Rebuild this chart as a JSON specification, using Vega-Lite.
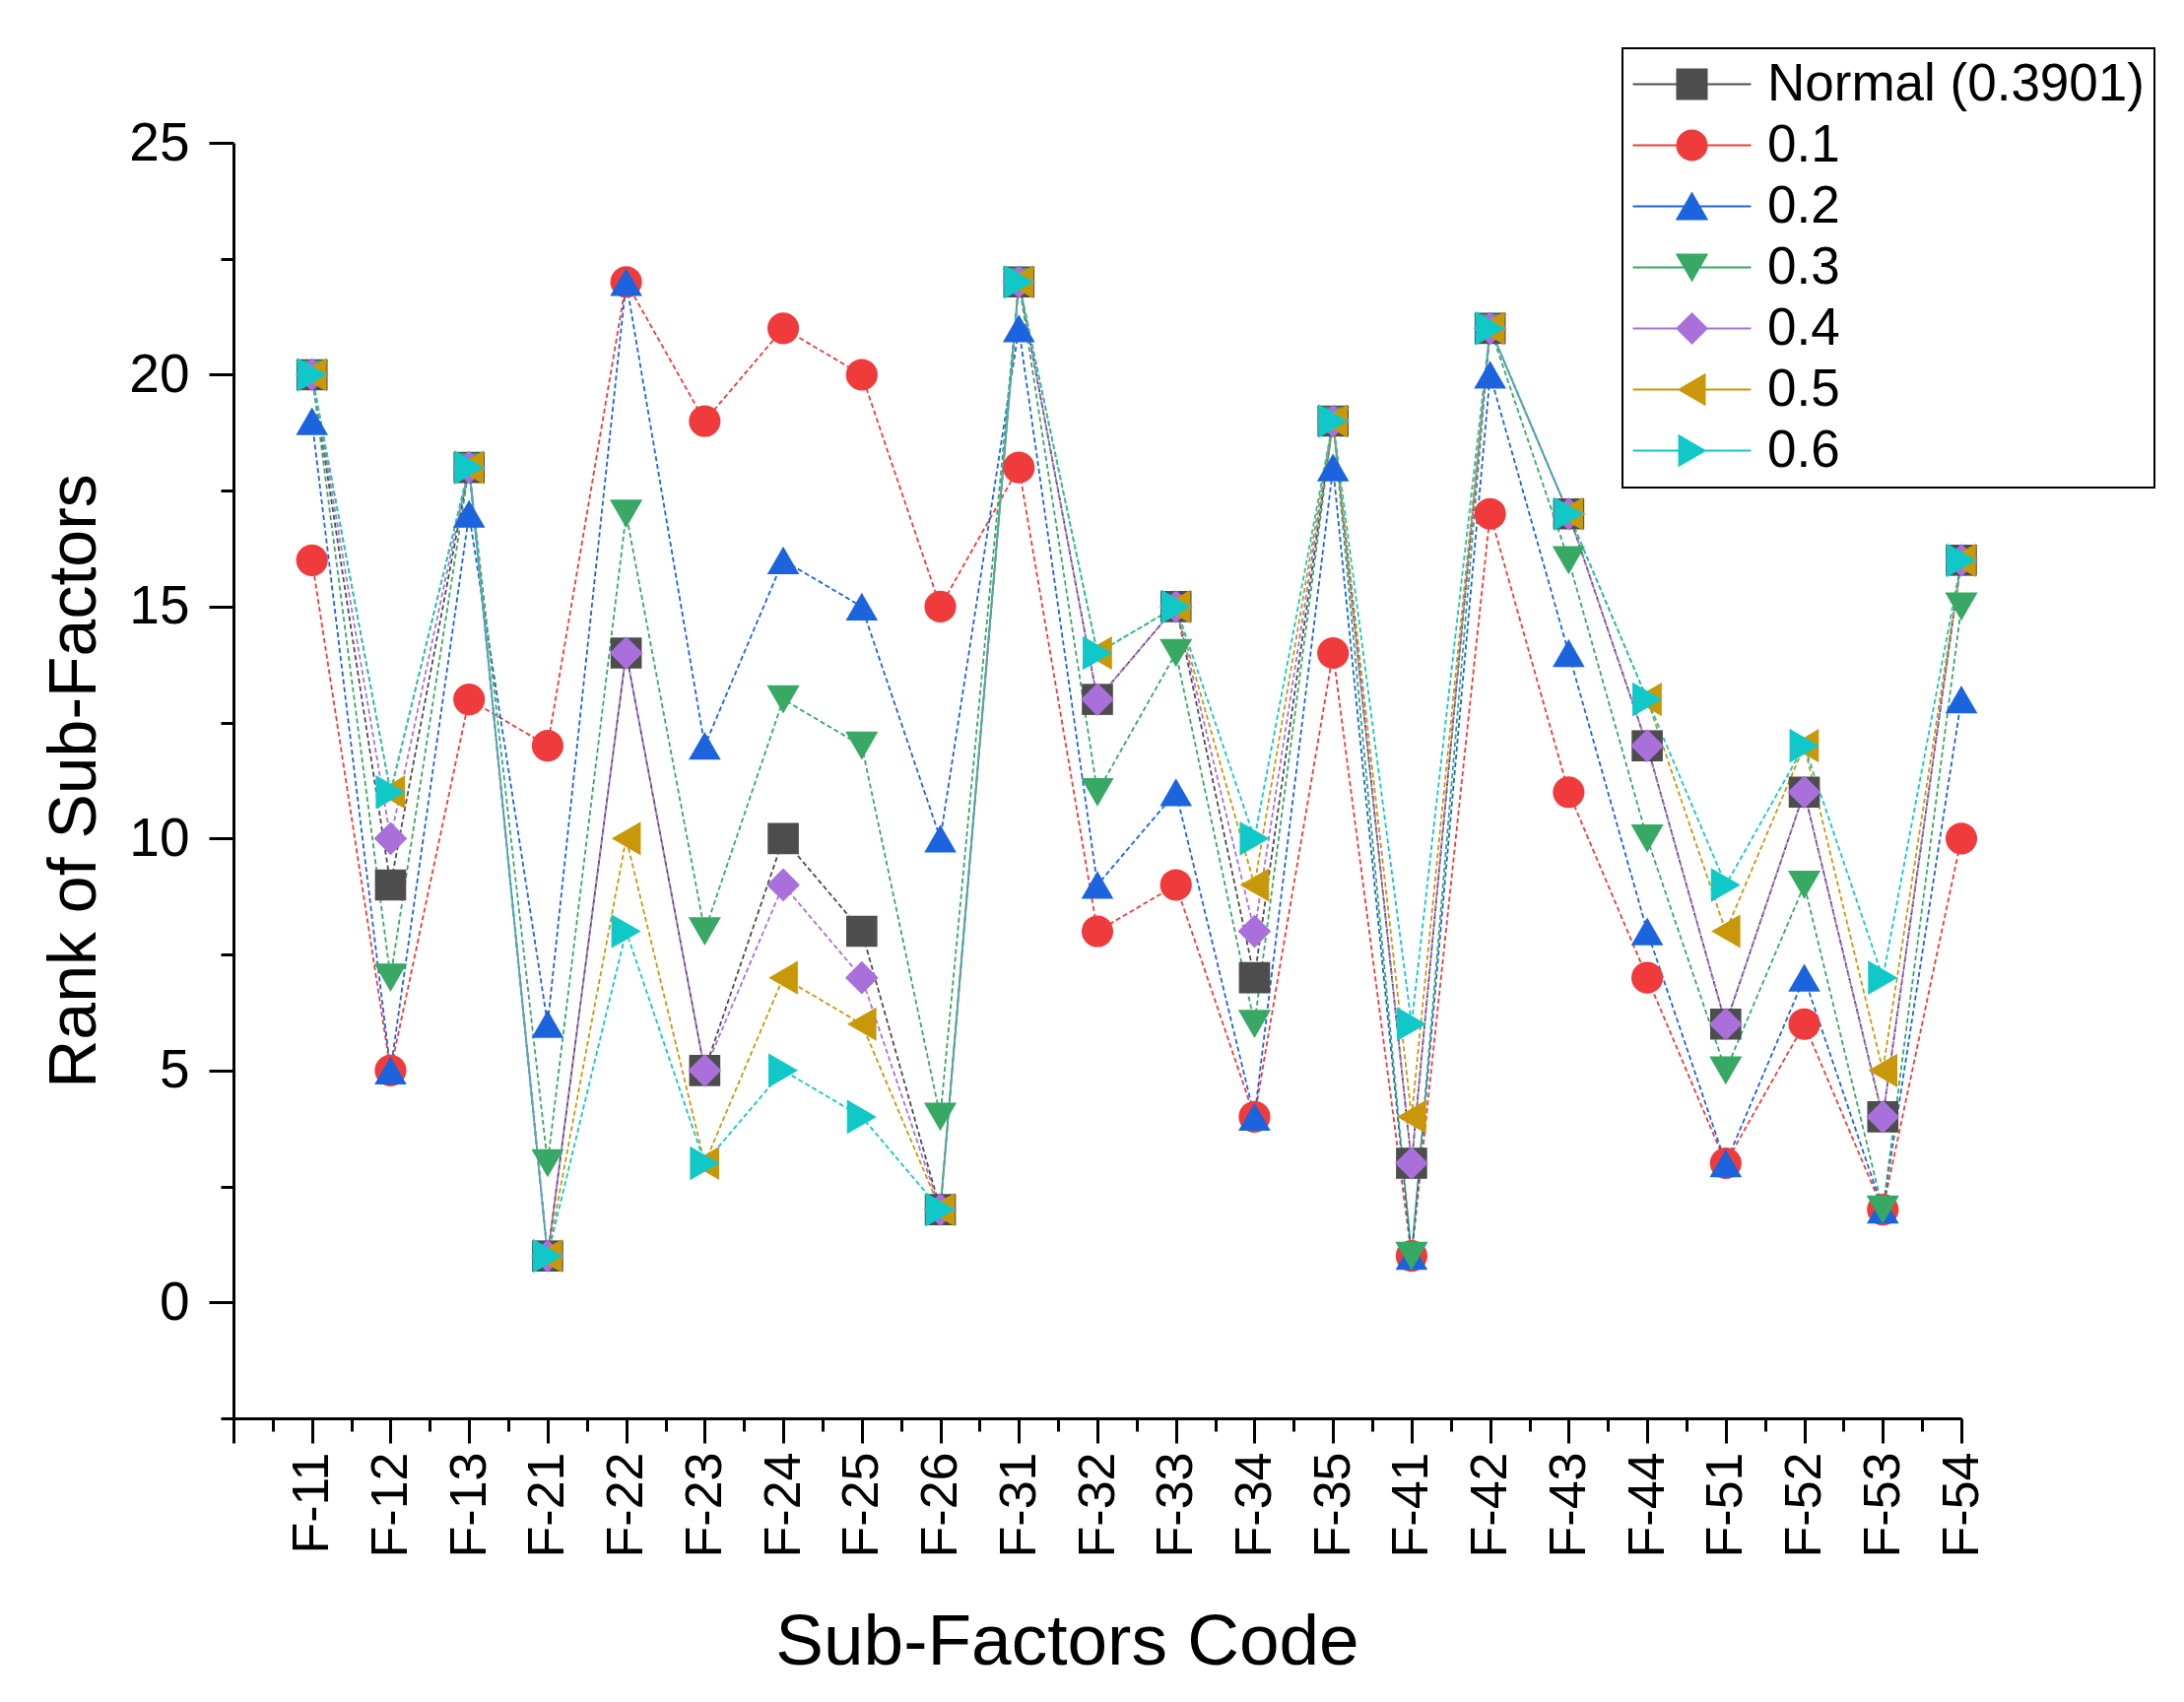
{
  "$schema": "https://vega.github.io/schema/vega-lite/v6.json",
  "autosize": "none",
  "width": 1754,
  "height": 1295,
  "padding": {"left": 237, "top": 145, "right": 226, "bottom": 288},
  "background": "white",
  "config": {
    "view": {"stroke": null},
    "font": "Liberation Sans",
    "axis": {"grid": false, "domainColor": "black", "tickColor": "black", "labelColor": "black", "titleColor": "black", "labelFont": "Liberation Sans", "titleFont": "Liberation Sans", "titleFontWeight": "normal"},
    "legend": {"strokeWidth": 2}
  },
  "datasets": {
    "ranks": [
      {"code":"F-11","i":1,"series":"Normal (0.3901)","rank":20},{"code":"F-12","i":2,"series":"Normal (0.3901)","rank":9},{"code":"F-13","i":3,"series":"Normal (0.3901)","rank":18},{"code":"F-21","i":4,"series":"Normal (0.3901)","rank":1},{"code":"F-22","i":5,"series":"Normal (0.3901)","rank":14},{"code":"F-23","i":6,"series":"Normal (0.3901)","rank":5},{"code":"F-24","i":7,"series":"Normal (0.3901)","rank":10},{"code":"F-25","i":8,"series":"Normal (0.3901)","rank":8},{"code":"F-26","i":9,"series":"Normal (0.3901)","rank":2},{"code":"F-31","i":10,"series":"Normal (0.3901)","rank":22},{"code":"F-32","i":11,"series":"Normal (0.3901)","rank":13},{"code":"F-33","i":12,"series":"Normal (0.3901)","rank":15},{"code":"F-34","i":13,"series":"Normal (0.3901)","rank":7},{"code":"F-35","i":14,"series":"Normal (0.3901)","rank":19},{"code":"F-41","i":15,"series":"Normal (0.3901)","rank":3},{"code":"F-42","i":16,"series":"Normal (0.3901)","rank":21},{"code":"F-43","i":17,"series":"Normal (0.3901)","rank":17},{"code":"F-44","i":18,"series":"Normal (0.3901)","rank":12},{"code":"F-51","i":19,"series":"Normal (0.3901)","rank":6},{"code":"F-52","i":20,"series":"Normal (0.3901)","rank":11},{"code":"F-53","i":21,"series":"Normal (0.3901)","rank":4},{"code":"F-54","i":22,"series":"Normal (0.3901)","rank":16},
      {"code":"F-11","i":1,"series":"0.1","rank":16},{"code":"F-12","i":2,"series":"0.1","rank":5},{"code":"F-13","i":3,"series":"0.1","rank":13},{"code":"F-21","i":4,"series":"0.1","rank":12},{"code":"F-22","i":5,"series":"0.1","rank":22},{"code":"F-23","i":6,"series":"0.1","rank":19},{"code":"F-24","i":7,"series":"0.1","rank":21},{"code":"F-25","i":8,"series":"0.1","rank":20},{"code":"F-26","i":9,"series":"0.1","rank":15},{"code":"F-31","i":10,"series":"0.1","rank":18},{"code":"F-32","i":11,"series":"0.1","rank":8},{"code":"F-33","i":12,"series":"0.1","rank":9},{"code":"F-34","i":13,"series":"0.1","rank":4},{"code":"F-35","i":14,"series":"0.1","rank":14},{"code":"F-41","i":15,"series":"0.1","rank":1},{"code":"F-42","i":16,"series":"0.1","rank":17},{"code":"F-43","i":17,"series":"0.1","rank":11},{"code":"F-44","i":18,"series":"0.1","rank":7},{"code":"F-51","i":19,"series":"0.1","rank":3},{"code":"F-52","i":20,"series":"0.1","rank":6},{"code":"F-53","i":21,"series":"0.1","rank":2},{"code":"F-54","i":22,"series":"0.1","rank":10},
      {"code":"F-11","i":1,"series":"0.2","rank":19},{"code":"F-12","i":2,"series":"0.2","rank":5},{"code":"F-13","i":3,"series":"0.2","rank":17},{"code":"F-21","i":4,"series":"0.2","rank":6},{"code":"F-22","i":5,"series":"0.2","rank":22},{"code":"F-23","i":6,"series":"0.2","rank":12},{"code":"F-24","i":7,"series":"0.2","rank":16},{"code":"F-25","i":8,"series":"0.2","rank":15},{"code":"F-26","i":9,"series":"0.2","rank":10},{"code":"F-31","i":10,"series":"0.2","rank":21},{"code":"F-32","i":11,"series":"0.2","rank":9},{"code":"F-33","i":12,"series":"0.2","rank":11},{"code":"F-34","i":13,"series":"0.2","rank":4},{"code":"F-35","i":14,"series":"0.2","rank":18},{"code":"F-41","i":15,"series":"0.2","rank":1},{"code":"F-42","i":16,"series":"0.2","rank":20},{"code":"F-43","i":17,"series":"0.2","rank":14},{"code":"F-44","i":18,"series":"0.2","rank":8},{"code":"F-51","i":19,"series":"0.2","rank":3},{"code":"F-52","i":20,"series":"0.2","rank":7},{"code":"F-53","i":21,"series":"0.2","rank":2},{"code":"F-54","i":22,"series":"0.2","rank":13},
      {"code":"F-11","i":1,"series":"0.3","rank":20},{"code":"F-12","i":2,"series":"0.3","rank":7},{"code":"F-13","i":3,"series":"0.3","rank":18},{"code":"F-21","i":4,"series":"0.3","rank":3},{"code":"F-22","i":5,"series":"0.3","rank":17},{"code":"F-23","i":6,"series":"0.3","rank":8},{"code":"F-24","i":7,"series":"0.3","rank":13},{"code":"F-25","i":8,"series":"0.3","rank":12},{"code":"F-26","i":9,"series":"0.3","rank":4},{"code":"F-31","i":10,"series":"0.3","rank":22},{"code":"F-32","i":11,"series":"0.3","rank":11},{"code":"F-33","i":12,"series":"0.3","rank":14},{"code":"F-34","i":13,"series":"0.3","rank":6},{"code":"F-35","i":14,"series":"0.3","rank":19},{"code":"F-41","i":15,"series":"0.3","rank":1},{"code":"F-42","i":16,"series":"0.3","rank":21},{"code":"F-43","i":17,"series":"0.3","rank":16},{"code":"F-44","i":18,"series":"0.3","rank":10},{"code":"F-51","i":19,"series":"0.3","rank":5},{"code":"F-52","i":20,"series":"0.3","rank":9},{"code":"F-53","i":21,"series":"0.3","rank":2},{"code":"F-54","i":22,"series":"0.3","rank":15},
      {"code":"F-11","i":1,"series":"0.4","rank":20},{"code":"F-12","i":2,"series":"0.4","rank":10},{"code":"F-13","i":3,"series":"0.4","rank":18},{"code":"F-21","i":4,"series":"0.4","rank":1},{"code":"F-22","i":5,"series":"0.4","rank":14},{"code":"F-23","i":6,"series":"0.4","rank":5},{"code":"F-24","i":7,"series":"0.4","rank":9},{"code":"F-25","i":8,"series":"0.4","rank":7},{"code":"F-26","i":9,"series":"0.4","rank":2},{"code":"F-31","i":10,"series":"0.4","rank":22},{"code":"F-32","i":11,"series":"0.4","rank":13},{"code":"F-33","i":12,"series":"0.4","rank":15},{"code":"F-34","i":13,"series":"0.4","rank":8},{"code":"F-35","i":14,"series":"0.4","rank":19},{"code":"F-41","i":15,"series":"0.4","rank":3},{"code":"F-42","i":16,"series":"0.4","rank":21},{"code":"F-43","i":17,"series":"0.4","rank":17},{"code":"F-44","i":18,"series":"0.4","rank":12},{"code":"F-51","i":19,"series":"0.4","rank":6},{"code":"F-52","i":20,"series":"0.4","rank":11},{"code":"F-53","i":21,"series":"0.4","rank":4},{"code":"F-54","i":22,"series":"0.4","rank":16},
      {"code":"F-11","i":1,"series":"0.5","rank":20},{"code":"F-12","i":2,"series":"0.5","rank":11},{"code":"F-13","i":3,"series":"0.5","rank":18},{"code":"F-21","i":4,"series":"0.5","rank":1},{"code":"F-22","i":5,"series":"0.5","rank":10},{"code":"F-23","i":6,"series":"0.5","rank":3},{"code":"F-24","i":7,"series":"0.5","rank":7},{"code":"F-25","i":8,"series":"0.5","rank":6},{"code":"F-26","i":9,"series":"0.5","rank":2},{"code":"F-31","i":10,"series":"0.5","rank":22},{"code":"F-32","i":11,"series":"0.5","rank":14},{"code":"F-33","i":12,"series":"0.5","rank":15},{"code":"F-34","i":13,"series":"0.5","rank":9},{"code":"F-35","i":14,"series":"0.5","rank":19},{"code":"F-41","i":15,"series":"0.5","rank":4},{"code":"F-42","i":16,"series":"0.5","rank":21},{"code":"F-43","i":17,"series":"0.5","rank":17},{"code":"F-44","i":18,"series":"0.5","rank":13},{"code":"F-51","i":19,"series":"0.5","rank":8},{"code":"F-52","i":20,"series":"0.5","rank":12},{"code":"F-53","i":21,"series":"0.5","rank":5},{"code":"F-54","i":22,"series":"0.5","rank":16},
      {"code":"F-11","i":1,"series":"0.6","rank":20},{"code":"F-12","i":2,"series":"0.6","rank":11},{"code":"F-13","i":3,"series":"0.6","rank":18},{"code":"F-21","i":4,"series":"0.6","rank":1},{"code":"F-22","i":5,"series":"0.6","rank":8},{"code":"F-23","i":6,"series":"0.6","rank":3},{"code":"F-24","i":7,"series":"0.6","rank":5},{"code":"F-25","i":8,"series":"0.6","rank":4},{"code":"F-26","i":9,"series":"0.6","rank":2},{"code":"F-31","i":10,"series":"0.6","rank":22},{"code":"F-32","i":11,"series":"0.6","rank":14},{"code":"F-33","i":12,"series":"0.6","rank":15},{"code":"F-34","i":13,"series":"0.6","rank":10},{"code":"F-35","i":14,"series":"0.6","rank":19},{"code":"F-41","i":15,"series":"0.6","rank":6},{"code":"F-42","i":16,"series":"0.6","rank":21},{"code":"F-43","i":17,"series":"0.6","rank":17},{"code":"F-44","i":18,"series":"0.6","rank":13},{"code":"F-51","i":19,"series":"0.6","rank":9},{"code":"F-52","i":20,"series":"0.6","rank":12},{"code":"F-53","i":21,"series":"0.6","rank":7},{"code":"F-54","i":22,"series":"0.6","rank":16}
    ]
  },
  "data": {"name": "ranks"},
  "resolve": {
    "scale": {"fill": "independent", "stroke": "independent", "shape": "independent"},
    "axis": {"x": "independent", "y": "independent"}
  },
  "layer": [
    {
      "mark": {"type": "line", "strokeWidth": 1.8, "strokeDash": [5, 3]},
      "encoding": {
        "x": {"field": "i", "type": "quantitative",
          "scale": {"domain": [0, 22], "nice": false, "zero": false},
          "axis": {"orient": "bottom", "values": [0,1,2,3,4,5,6,7,8,9,10,11,12,13,14,15,16,17,18,19,20,21,22],
            "labelExpr": "['','F-11','F-12','F-13','F-21','F-22','F-23','F-24','F-25','F-26','F-31','F-32','F-33','F-34','F-35','F-41','F-42','F-43','F-44','F-51','F-52','F-53','F-54'][datum.value]",
            "labelAngle": 270, "labelFontSize": 52, "labelPadding": 9, "tickSize": 25, "tickWidth": 3, "domainWidth": 3,
            "title": "Sub-Factors Code", "titleFontSize": 73, "titlePadding": 51, "titleX": 846, "labelOverlap": false, "labelBound": false, "labelFlush": false}},
        "y": {"field": "rank", "type": "quantitative",
          "scale": {"domain": [-2.5, 25], "nice": false, "zero": false},
          "axis": {"orient": "left", "values": [0, 5, 10, 15, 20, 25], "format": "d", "labelFontSize": 55, "labelPadding": 20,
            "tickSize": 25, "tickWidth": 3, "domainWidth": 3, "title": "Rank of Sub-Factors", "titleFontSize": 68, "titlePadding": 20, "labelFlush": false, "labelOverlap": false}},
        "stroke": {"field": "series", "type": "nominal",
          "scale": {"domain": ["Normal (0.3901)", "0.1", "0.2", "0.3", "0.4", "0.5", "0.6"],
                    "range": ["#4d4d4d", "#ef3b3b", "#1c64de", "#38a865", "#a970db", "#c9980a", "#10c8c8"]},
          "legend": null},
        "detail": {"field": "series"}
      }
    },
    {
      "mark": {"type": "point", "filled": true, "opacity": 1, "strokeWidth": 0},
      "encoding": {
        "x": {"field": "i", "type": "quantitative",
          "axis": {"orient": "bottom", "values": [0.5,1.5,2.5,3.5,4.5,5.5,6.5,7.5,8.5,9.5,10.5,11.5,12.5,13.5,14.5,15.5,16.5,17.5,18.5,19.5,20.5,21.5],
            "labels": false, "domain": false, "tickSize": 13, "tickWidth": 3, "title": null}},
        "y": {"field": "rank", "type": "quantitative",
          "axis": {"orient": "left", "values": [-2.5, 2.5, 7.5, 12.5, 17.5, 22.5], "labels": false, "domain": false,
            "tickSize": 13, "tickWidth": 3, "title": null}},
        "fill": {"field": "series", "type": "nominal",
          "scale": {"domain": ["Normal (0.3901)", "0.1", "0.2", "0.3", "0.4", "0.5", "0.6"],
                    "range": ["#4d4d4d", "#ef3b3b", "#1c64de", "#38a865", "#a970db", "#c9980a", "#10c8c8"]},
          "legend": null},
        "shape": {"field": "series", "type": "nominal",
          "scale": {"domain": ["Normal (0.3901)", "0.1", "0.2", "0.3", "0.4", "0.5", "0.6"],
                    "range": ["square", "circle", "triangle-up", "triangle-down", "diamond", "triangle-left", "triangle-right"]},
          "legend": null},
        "size": {"field": "series", "type": "ordinal",
          "scale": {"domain": ["Normal (0.3901)", "0.1", "0.2", "0.3", "0.4", "0.5", "0.6"],
                    "range": [1000, 1200, 2000, 2000, 1500, 2000, 2000]},
          "legend": null}
      }
    },
    {
      "transform": [{"filter": "false"}],
      "mark": {"type": "point", "filled": true, "opacity": 1, "size": 900, "strokeWidth": 2},
      "encoding": {
        "fill": {"field": "series", "type": "nominal",
          "scale": {"domain": ["Normal (0.3901)", "0.1", "0.2", "0.3", "0.4", "0.5", "0.6"],
                    "range": ["#4d4d4d", "#ef3b3b", "#1c64de", "#38a865", "#a970db", "#c9980a", "#10c8c8"]},
          "legend": {"orient": "none", "legendX": 1410, "legendY": -96, "title": null, "labelFontSize": 53, "labelFont": "Liberation Sans", "labelColor": "black", "labelLimit": 0,
            "symbolSize": 900, "symbolStrokeWidth": 2, "symbolOffset": 34, "labelOffset": 50, "rowPadding": 8, "padding": 10, "strokeColor": "black"}},
        "stroke": {"field": "series", "type": "nominal",
          "scale": {"domain": ["Normal (0.3901)", "0.1", "0.2", "0.3", "0.4", "0.5", "0.6"],
                    "range": ["#4d4d4d", "#ef3b3b", "#1c64de", "#38a865", "#a970db", "#c9980a", "#10c8c8"]},
          "legend": {"orient": "none", "legendX": 1410, "legendY": -96, "title": null, "labelFontSize": 53, "labelFont": "Liberation Sans", "labelColor": "black", "labelLimit": 0,
            "symbolSize": 900, "symbolStrokeWidth": 2, "symbolOffset": 34, "labelOffset": 50, "rowPadding": 8, "padding": 10, "strokeColor": "black"}},
        "shape": {"field": "series", "type": "nominal",
          "scale": {"domain": ["Normal (0.3901)", "0.1", "0.2", "0.3", "0.4", "0.5", "0.6"],
                    "range": [
                      "M-4,0H4M-1,-1H1V1H-1Z",
                      "M-4,0H4M1,0A1,1,0,1,1,-1,0A1,1,0,1,1,1,0Z",
                      "M-4,0H4M0,-0.866L1,0.866L-1,0.866Z",
                      "M-4,0H4M0,0.866L1,-0.866L-1,-0.866Z",
                      "M-4,0H4M-1,0L0,-1L1,0L0,1Z",
                      "M-4,0H4M-0.866,0L0.866,-1L0.866,1Z",
                      "M-4,0H4M0.866,0L-0.866,-1L-0.866,1Z"
                    ]},
          "legend": {"orient": "none", "legendX": 1410, "legendY": -96, "title": null, "labelFontSize": 53, "labelFont": "Liberation Sans", "labelColor": "black", "labelLimit": 0,
            "symbolSize": 900, "symbolStrokeWidth": 2, "symbolOffset": 34, "labelOffset": 50, "rowPadding": 8, "padding": 10, "strokeColor": "black"}}
      }
    }
  ]
}
